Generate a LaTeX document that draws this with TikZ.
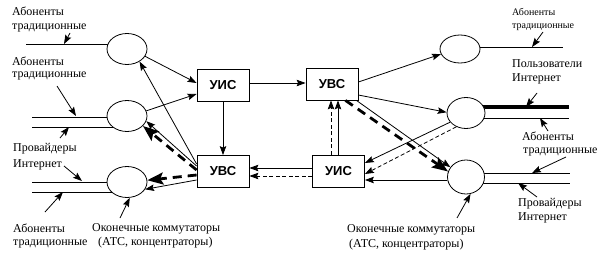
\documentclass[tikz,border=0pt]{standalone}
\usepackage{fontspec}
\setmainfont{Liberation Serif}
\newfontfamily\boxfont{Liberation Sans}
\usetikzlibrary{arrows.meta,shapes.geometric,backgrounds,calc}
\begin{document}
\begin{tikzpicture}[x=1pt,y=-1pt,
  sw/.style={ellipse,draw,line width=0.8pt,fill=white,minimum width=40pt,minimum height=31pt,inner sep=0pt},
  bx/.style={draw,line width=0.8pt,fill=white,minimum width=52pt,minimum height=32pt,inner sep=0pt,font=\boxfont\bfseries\fontsize{13}{13}\selectfont},
  lbl/.style={font=\fontsize{12}{13}\selectfont,anchor=base west,inner sep=0pt},
  sml/.style={font=\fontsize{10}{12}\selectfont,anchor=base west,inner sep=0pt},
  ln/.style={line width=0.8pt},
  ar/.style={line width=0.8pt,-{Stealth[length=9pt,width=6.5pt,inset=1.5pt]}},
  dsh/.style={ar,dash pattern=on 4pt off 2.5pt},
  thk/.style={line width=2.8pt,dash pattern=on 9pt off 6pt,-{Stealth[length=16pt,width=12pt,inset=3pt]}},
]
\useasboundingbox (0,0) rectangle (599,257);

% switches
\node[sw] (C1) at (127,49) {};
\node[sw] (C2) at (127,116) {};
\node[sw] (C3) at (127,182) {};
\node[sw,minimum height=28pt] (R1) at (460,49) {};
\node[sw,minimum width=38pt] (R2) at (466,113) {};
\node[sw,minimum width=37pt,minimum height=34pt] (R3) at (466,177) {};

% boxes
\node[bx] (uis1) at (223,85) {УИС};
\node[bx] (uvs1) at (332,84) {УВС};
\node[bx] (uvs2) at (223,171.5) {УВС};
\node[bx] (uis2) at (338.5,171) {УИС};

% subscriber lines
\begin{scope}[on background layer]
  \fill[white] (0,0) rectangle (599,257);
  \draw[ln] (26,44) -- (C1 |- 26,44);
  \draw[ln] (32,117) -- (C2 |- 32,117);
  \draw[ln] (32,127) -- (C2 |- 32,127);
  \draw[ln] (32,182) -- (C3 |- 32,182);
  \draw[ln] (32,192) -- (C3 |- 32,192);
  \draw[ln] (R1 |- 563,47) -- (563,47);
  \draw[line width=3.2pt] (R2 |- 569,107) -- (569,107);
  \draw[ln] (R2 |- 569,118) -- (569,118);
  \draw[ln] (R3 |- 570,173) -- (570,173);
  \draw[ln] (R3 |- 570,183) -- (570,183);
\end{scope}

% labels
\node[lbl] (t1a) at (12,15) {Абоненты};
\node[lbl] (t1b) at (12,29) {традиционные};
\node[lbl] (t2a) at (12,65) {Абоненты};
\node[lbl] (t2b) at (12,77) {традиционные};
\node[lbl] (t3a) at (13,151) {Провайдеры};
\node[lbl] (t3b) at (13,167) {Интернет};
\node[lbl] (t4a) at (13,232) {Абоненты};
\node[lbl] (t4b) at (13,245) {традиционные};
\node[lbl] (k1a) at (92,231) {Оконечные коммутаторы};
\node[lbl] (k1b) at (98,245) {(АТС, концентраторы)};
\node[lbl] (k2a) at (347,232) {Оконечные коммутаторы};
\node[lbl] (k2b) at (349,247) {(АТС, концентраторы)};
\node[sml] (r1a) at (512,16) {Абоненты};
\node[sml] (r1b) at (512,28) {традиционные};
\node[lbl] (r2a) at (512,67) {Пользователи};
\node[lbl] (r2b) at (512,81) {Интернет};
\node[lbl] (r3a) at (522,140) {Абоненты};
\node[lbl] (r3b) at (523,153) {традиционные};
\node[lbl] (r4a) at (518,206) {Провайдеры};
\node[lbl] (r4b) at (518,220) {Интернет};

% label pointers
\coordinate (p1) at (70,33);   \draw[ar] (p1) -- (64,44);
\coordinate (p2) at (57,86);   \draw[ar] (p2) -- (76,116);
\coordinate (p3) at (60,138);  \draw[ar] (p3) -- (69,127);
\coordinate (p4) at (64,166);  \draw[ar] (p4) -- (82,181);
\coordinate (p5) at (45,212);  \draw[ar] (p5) -- (63,192);
\coordinate (p6) at (120,218); \draw[ar] (p6) -- (C3.-80);
\coordinate (p7) at (457,218); \draw[ar] (p7) -- (R3.-75);
\coordinate (p8) at (543,32);  \draw[ar] (p8) -- (532,47);
\coordinate (p9) at (537,93);  \draw[ar] (p9) -- (526,107);
\coordinate (p10) at (548,131); \draw[ar] (p10) -- (540,118);
\coordinate (p11) at (566,157); \draw[ar] (p11) -- (532,173);
\coordinate (p12) at (537,197); \draw[ar] (p12) -- (518,183);

% connectors, left part
\draw[ar] (C1.-22) -- (uis1.west |- 0,83);
\draw[ar] (C2.15) -- (uis1.west |- 0,94);
\draw[ar] (uis1.east |- 0,83) -- (uvs1.west |- 0,83);
\draw[ar] (uis1.south) -- (uvs2.north);
\draw[ar] (uvs2.west |- 0,164) -- (C1.-45);
\draw[ar] (uvs2.west |- 0,166) -- (C2.-15);
\draw[thk] (uvs2.west |- 0,170) -- (C2.-32);
\draw[thk] (uvs2.west |- 0,175) -- (C3.5);
\draw[ar] (uvs2.west |- 0,180) -- (C3.-22);
\draw[ar] (uis2.west |- 0,168) -- (uvs2.east |- 0,168);
\draw[dsh] (uis2.west |- 0,176) -- (uvs2.east |- 0,176);

% connectors, right part
\draw[ar] (uis2.north -| 338,0) -- (uvs1.south -| 338,0);
\draw[dsh] (uis2.north -| 331,0) -- (uvs1.south -| 331,0);
\draw[ar] (uvs1.east |- 0,82) -- (R1.-165);
\draw[ar] (uvs1.east |- 0,95) -- (R2.178);
\draw[ar] ($(uvs1.south east)+(-2,0)$) -- (R3.148);
\draw[thk] ($(uvs1.south east)+(-13,0)$) -- (R3.163);
\draw[ar] (R2.-150) -- (uis2.east |- 0,163);
\draw[dsh] (R2.-125) -- (uis2.east |- 0,174);
\draw[ar] (R3.west |- 0,180) -- (uis2.east |- 0,180);
\end{tikzpicture}
\end{document}
